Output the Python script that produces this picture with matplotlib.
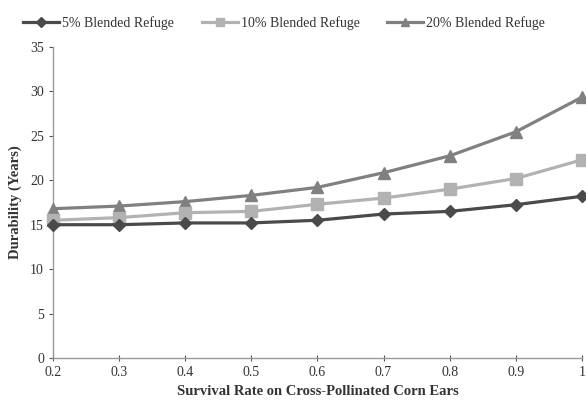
import matplotlib
matplotlib.use("Agg")
import matplotlib.pyplot as plt

x = [0.2, 0.3, 0.4, 0.5, 0.6, 0.7, 0.8, 0.9, 1.0]
s5 = [15.0, 15.0, 15.2, 15.2, 15.5, 16.2, 16.5, 17.25, 18.2]
s10 = [15.5, 15.8, 16.35, 16.5, 17.3, 18.0, 19.0, 20.2, 22.3]
s20 = [16.8, 17.1, 17.6, 18.3, 19.2, 20.85, 22.75, 25.45, 29.35]
labels = ["5% Blended Refuge", "10% Blended Refuge", "20% Blended Refuge"]
xticks = [0.2, 0.3, 0.4, 0.5, 0.6, 0.7, 0.8, 0.9, 1.0]
xticklabels = ["0.2", "0.3", "0.4", "0.5", "0.6", "0.7", "0.8", "0.9", "1"]
yticks = [0, 5, 10, 15, 20, 25, 30, 35]

plt.rcParams['font.family'] = ['Liberation Serif', 'DejaVu Serif']

fig = plt.figure(figsize=(5.86, 4.0), dpi=100)
ax = fig.add_axes([0.0904, 0.105, 0.9026, 0.7775])

ax.plot(x, s5, color="#4a4a4a", lw=2.3, marker="D", ms=6, label=labels[0], clip_on=False, zorder=5)
ax.plot(x, s10, color="#b2b2b2", lw=2.3, marker="s", ms=8, label=labels[1], clip_on=False, zorder=4)
ax.plot(x, s20, color="#808080", lw=2.3, marker="^", ms=8, label=labels[2], clip_on=False, zorder=3)

ax.set_xlim(0.2, 1.0)
ax.set_ylim(0, 35)
ax.set_xticks(xticks)
ax.set_xticklabels(xticklabels)
ax.set_yticks(yticks)
ax.tick_params(axis="both", labelsize=10, colors="#555555", length=3, width=0.8)
ax.tick_params(axis="x", direction="inout", length=5)
for lab in ax.get_xticklabels() + ax.get_yticklabels():
    lab.set_color("#333333")

for sp in ["top", "right"]:
    ax.spines[sp].set_visible(False)
for sp in ["left", "bottom"]:
    ax.spines[sp].set_color("#999999")
    ax.spines[sp].set_linewidth(1.0)

ax.set_xlabel("Survival Rate on Cross-Pollinated Corn Ears", fontsize=10.5, fontweight="bold", color="#333333", labelpad=4)
ax.set_ylabel("Durability (Years)", fontsize=10.5, fontweight="bold", color="#333333", labelpad=6)

leg = fig.legend(loc="upper center", bbox_to_anchor=(0.485, 0.99), ncol=3, frameon=False,
                 fontsize=10, handlelength=2.6, columnspacing=2.0, handletextpad=0.2, markerscale=0.8)
for t in leg.get_texts():
    t.set_color("#333333")

fig.savefig("out.png", dpi=100)
